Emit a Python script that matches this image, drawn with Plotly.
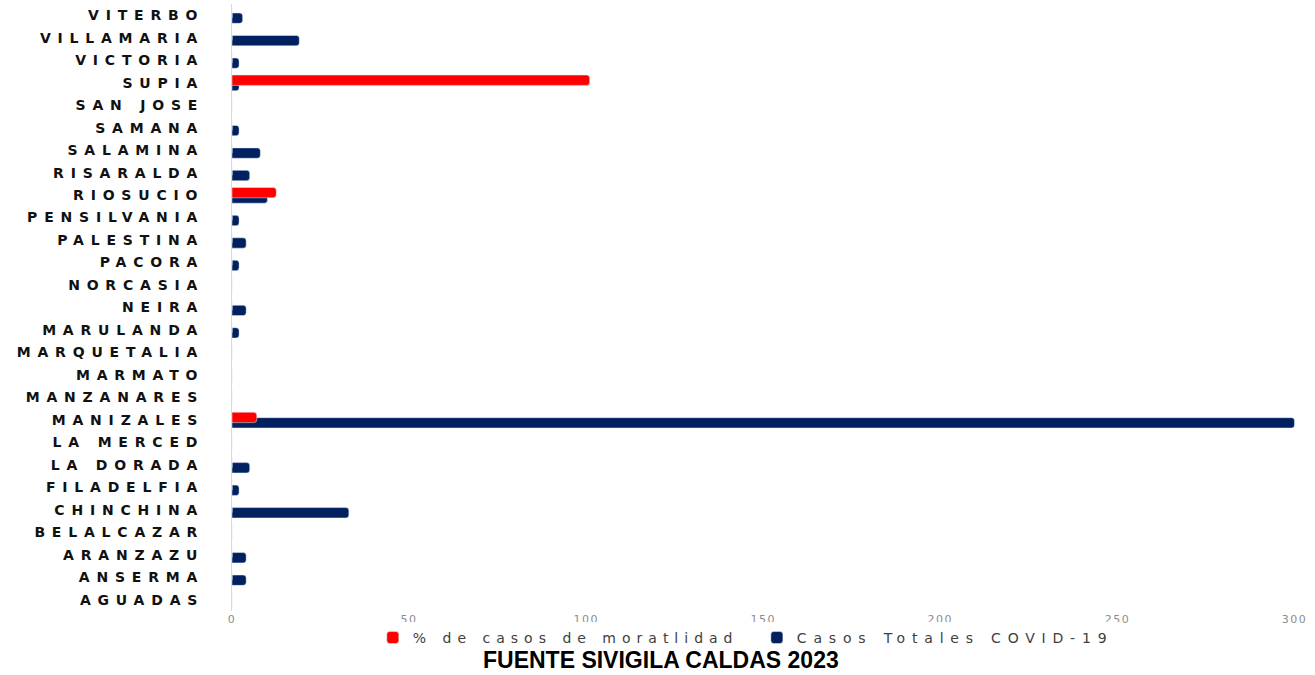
import plotly.graph_objects as go

categories = ["AGUADAS", "ANSERMA", "ARANZAZU", "BELALCAZAR", "CHINCHINA", "FILADELFIA",
              "LA DORADA", "LA MERCED", "MANIZALES", "MANZANARES", "MARMATO", "MARQUETALIA",
              "MARULANDA", "NEIRA", "NORCASIA", "PACORA", "PALESTINA", "PENSILVANIA",
              "RIOSUCIO", "RISARALDA", "SALAMINA", "SAMANA", "SAN JOSE", "SUPIA",
              "VICTORIA", "VILLAMARIA", "VITERBO"]

casos_totales = [0, 4, 4, 0, 33, 2, 5, 0, 300, 0, 0, 0, 2, 4, 0, 2, 4, 2,
                 10, 5, 8, 2, 0, 2, 2, 19, 3]

pct_mortalidad = [0, 0, 0, 0, 0, 0, 0, 0, 7, 0, 0, 0, 0, 0, 0, 0, 0, 0,
                  12.5, 0, 0, 0, 0, 101, 0, 0, 0]

x_ticks = [0, 50, 100, 150, 200, 250, 300]

series_names = ["% de casos de moratlidad", "Casos Totales COVID-19"]
footer = "FUENTE SIVIGILA CALDAS 2023"


def spaced(txt, px):
    return '<span style="letter-spacing:%spx">%s</span>' % (px, txt)


fig = go.Figure()
fig.add_trace(go.Bar(
    y=categories, x=casos_totales, orientation="h",
    name=spaced(series_names[1], 6.8), marker_color="#002060",
    offset=-0.36, width=0.46, legendrank=2,
))
fig.add_trace(go.Bar(
    y=categories, x=pct_mortalidad, orientation="h",
    name=spaced(series_names[0], 6) + "&nbsp;&nbsp;&nbsp;", marker_color="#FF0000",
    offset=-0.12, width=0.46, legendrank=1,
))

fig.update_layout(
    width=1315, height=675,
    margin=dict(l=232, r=17, t=4, b=64, autoexpand=False),
    plot_bgcolor="white", paper_bgcolor="white",
    barmode="overlay",
    barcornerradius=3,
    showlegend=True,
    legend=dict(orientation="h", x=0.482, xanchor="center", y=-0.018, yanchor="top",
                font=dict(family="DejaVu Sans", size=14, color="#404040"),
                traceorder="normal"),
    xaxis=dict(range=[0, 301], tickvals=x_ticks,
               ticktext=[spaced(str(v), 1.5) for v in x_ticks],
               showgrid=False, zeroline=False, showline=False, ticks="",
               tickfont=dict(family="DejaVu Sans", size=11, color="#8c8c8c")),
    yaxis=dict(categoryorder="array", categoryarray=categories, range=[-0.5, 26.5],
               tickvals=categories, ticktext=[spaced(c, 6.8) for c in categories],
               showgrid=False, zeroline=False, showline=True, linecolor="#d9d9d9",
               linewidth=1, ticks="", ticklabelstandoff=24,
               tickfont=dict(family="DejaVu Sans", size=14, color="#111111", weight="bold")),
    annotations=[dict(text="<b>%s</b>" % footer, xref="paper", yref="paper",
                      x=0.402, y=-0.081, xanchor="center", yanchor="middle", showarrow=False,
                      font=dict(family="Liberation Sans", size=23, color="black"))],
)

fig.write_html("out.html", post_script="document.body.style.margin='0';",
               config={"displayModeBar": False})
